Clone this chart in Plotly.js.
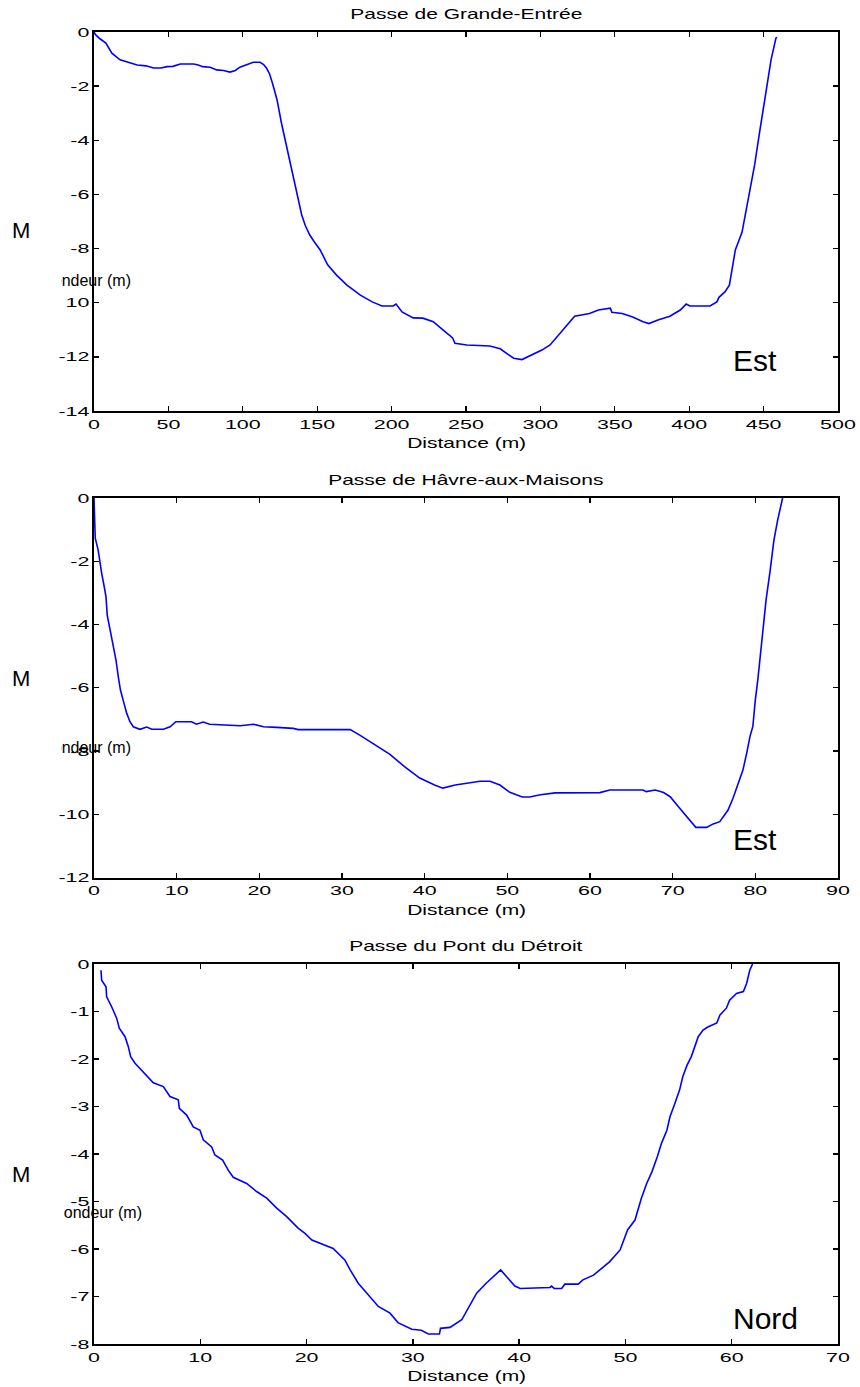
<!DOCTYPE html>
<html>
<head>
<meta charset="utf-8">
<script src="https://cdn.plot.ly/plotly-3.0.1.min.js"></script>
<style>
  html, body { margin: 0; padding: 0; background: #ffffff; }
  #chart { width: 860px; height: 1387px; }
</style>
</head>
<body>
<div id="chart"></div>
<script>
// ---------- Data ----------
var titles = ['Passe de Grande-Entrée', 'Passe de Hâvre-aux-Maisons', 'Passe du Pont du Détroit'];
var directions = ['Est', 'Est', 'Nord'];
var xLabel = 'Distance (m)';
var yLabel = 'Profondeur (m)';
var yUnit = 'M';

// Passe de Grande-Entrée
var dist1 = [0, 1, 4, 8, 12, 17.5, 23, 29, 35, 40, 45, 49, 53, 58, 63, 67, 70, 73, 78, 82.5, 87, 91.4, 95, 98, 103, 107, 111.6, 114, 116, 118, 120, 123, 126, 129.5, 133, 137, 139.6, 142, 145, 148, 152, 157, 163, 170, 179, 187, 193.5, 201, 203, 207, 214.5, 221, 228, 234.5, 241, 242.6, 250.5, 266, 273, 278, 282, 287.6, 295, 301, 306.5, 315, 323, 333, 339, 347, 348, 355, 362, 369, 373, 379, 387, 394, 398, 400.5, 414, 418.6, 420, 424, 427, 429, 431, 435.5, 439.5, 444, 447.6, 451.6, 455, 458.3, 459];
var depth1 = [0, -0.1, -0.25, -0.41, -0.78, -1.03, -1.12, -1.22, -1.25, -1.33, -1.33, -1.28, -1.27, -1.18, -1.18, -1.18, -1.22, -1.28, -1.3, -1.4, -1.42, -1.48, -1.42, -1.3, -1.2, -1.12, -1.12, -1.2, -1.34, -1.55, -1.9, -2.5, -3.37, -4.24, -5.2, -6.2, -6.76, -7.15, -7.5, -7.75, -8.05, -8.6, -8.98, -9.35, -9.72, -9.97, -10.12, -10.12, -10.05, -10.34, -10.56, -10.57, -10.7, -11.0, -11.3, -11.5, -11.56, -11.6, -11.7, -11.9, -12.05, -12.1, -11.9, -11.75, -11.56, -11.0, -10.5, -10.4, -10.27, -10.2, -10.35, -10.4, -10.53, -10.7, -10.77, -10.64, -10.5, -10.27, -10.05, -10.12, -10.12, -9.97, -9.8, -9.6, -9.35, -8.7, -8.05, -7.4, -6.2, -4.9, -3.6, -2.14, -1.03, -0.22, -0.2];

// Passe de Hâvre-aux-Maisons
var dist2 = [0, 0.15, 0.5, 0.73, 0.93, 1.2, 1.45, 1.6, 1.94, 2.3, 2.66, 2.94, 3.2, 3.63, 3.95, 4.35, 4.75, 5.56, 6.37, 7.0, 8.4, 9.2, 9.9, 11.8, 12.4, 13.2, 14.0, 16.45, 17.7, 19.3, 20.5, 22.1, 24.1, 24.7, 31, 32.2, 34, 35.8, 37.6, 39.4, 41.2, 42.2, 43.7, 45.5, 46.7, 47.9, 49.1, 50.3, 51.8, 52.7, 54, 55.8, 57.6, 59.4, 61.2, 62.4, 66.4, 66.8, 67.9, 68.9, 69.7, 70.7, 71.7, 72.8, 74.1, 74.9, 75.7, 76.7, 77.3, 77.9, 78.5, 78.95, 79.35, 79.7, 79.8, 80, 80.3, 80.8, 81.3, 81.8, 82.25, 82.7, 83.2, 83.3];
var depth2 = [0, -1.27, -1.64, -2.06, -2.38, -2.75, -3.12, -3.7, -4.17, -4.6, -5.12, -5.65, -6.07, -6.49, -6.8, -7.07, -7.23, -7.31, -7.24, -7.31, -7.31, -7.23, -7.07, -7.07, -7.15, -7.08, -7.15, -7.18, -7.2, -7.15, -7.23, -7.25, -7.28, -7.32, -7.32, -7.5, -7.8, -8.1, -8.5, -8.85, -9.07, -9.17, -9.07, -9.0, -8.95, -8.95, -9.07, -9.3, -9.45, -9.45, -9.38, -9.32, -9.32, -9.32, -9.31, -9.23, -9.23, -9.28, -9.23, -9.31, -9.44, -9.76, -10.07, -10.41, -10.41, -10.3, -10.23, -9.86, -9.49, -9.07, -8.6, -8.07, -7.54, -7.22, -6.91, -6.38, -5.75, -4.49, -3.22, -2.28, -1.33, -0.7, -0.06, 0];

// Passe du Pont du Détroit
var dist3 = [0.66, 0.72, 1.13, 1.19, 1.66, 2.13, 2.38, 2.92, 3.23, 3.45, 3.86, 4.33, 4.96, 5.58, 6.52, 7.15, 7.93, 8.03, 8.72, 9.34, 9.97, 10.28, 11.07, 11.38, 12.1, 12.63, 13.1, 14.36, 15.3, 16.25, 17.19, 18.13, 19.2, 19.85, 20.5, 21.26, 22.5, 23.6, 24.1, 24.86, 25.65, 26.75, 27.85, 28.6, 29.9, 30.8, 31.45, 32.5, 32.6, 33.5, 34.6, 35.2, 36.0, 36.9, 37.56, 38.26, 38.97, 39.6, 40.1, 42.9, 43.05, 43.3, 44.0, 44.3, 45.56, 46.0, 47.0, 47.6, 48.5, 49.5, 50.2, 50.9, 51.5, 52.0, 52.5, 53.0, 53.4, 53.9, 54.2, 54.66, 55.1, 55.4, 55.8, 56.2, 56.5, 56.85, 57.3, 57.8, 58.6, 58.9, 59.5, 59.8, 60.45, 61.1, 61.4, 61.7, 61.96];
var depth3 = [-0.13, -0.34, -0.48, -0.69, -0.9, -1.14, -1.35, -1.53, -1.74, -1.95, -2.09, -2.2, -2.34, -2.5, -2.58, -2.79, -2.86, -3.04, -3.18, -3.43, -3.5, -3.7, -3.85, -4.02, -4.13, -4.34, -4.49, -4.62, -4.79, -4.93, -5.14, -5.32, -5.56, -5.67, -5.81, -5.88, -5.99, -6.23, -6.44, -6.72, -6.93, -7.21, -7.35, -7.55, -7.69, -7.71, -7.79, -7.79, -7.67, -7.65, -7.49, -7.24, -6.93, -6.72, -6.58, -6.44, -6.62, -6.78, -6.83, -6.81, -6.78, -6.83, -6.83, -6.74, -6.74, -6.65, -6.55, -6.44, -6.27, -6.02, -5.6, -5.39, -4.93, -4.62, -4.37, -4.06, -3.77, -3.5, -3.21, -2.93, -2.65, -2.37, -2.13, -1.95, -1.74, -1.53, -1.39, -1.32, -1.24, -1.07, -0.93, -0.76, -0.62, -0.58, -0.41, -0.13, 0];

// Tick values and labels
var xTicks1 = [0, 50, 100, 150, 200, 250, 300, 350, 400, 450, 500];
var xTickText1 = ['0', '50', '100', '150', '200', '250', '300', '350', '400', '450', '500'];
var yTicks1 = [0, -2, -4, -6, -8, -10, -12, -14];
var yTickText1 = ['0', '-2', '-4', '-6', '-8', '10', '-12', '-14'];
var xTicks2 = [0, 10, 20, 30, 40, 50, 60, 70, 80, 90];
var xTickText2 = ['0', '10', '20', '30', '40', '50', '60', '70', '80', '90'];
var yTicks2 = [0, -2, -4, -6, -8, -10, -12];
var yTickText2 = ['0', '-2', '-4', '-6', '-8', '-10', '-12'];
var xTicks3 = [0, 10, 20, 30, 40, 50, 60, 70];
var xTickText3 = ['0', '10', '20', '30', '40', '50', '60', '70'];
var yTicks3 = [0, -1, -2, -3, -4, -5, -6, -7, -8];
var yTickText3 = ['0', '-1', '-2', '-3', '-4', '-5', '-6', '-7', '-8'];

// ---------- Layout helpers ----------
var W = 860, H = 1387;
function px(x) { return x / W; }
function py(y) { return 1 - y / H; }
var FONT = 'Liberation Sans, Arial, Helvetica, sans-serif';

var xDom = [px(94), px(838)];
var yDoms = [[py(411), py(32)], [py(877.7), py(498)], [py(1344), py(964)]];

function xAxis(range, tv, tt, anchor) {
  return {
    domain: xDom, range: range, anchor: anchor,
    tickmode: 'array', tickvals: tv, ticktext: tt,
    ticks: 'inside', ticklen: 5, tickwidth: 1.3, tickcolor: '#000',
    showline: true, linecolor: '#000', linewidth: 2, mirror: 'ticks',
    showgrid: false, zeroline: false, fixedrange: true,
    tickfont: { family: FONT, size: 13, color: '#000' }
  };
}
function yAxis(range, tv, tt, dom, anchor) {
  return {
    domain: dom, range: range, anchor: anchor,
    tickmode: 'array', tickvals: tv, ticktext: tt,
    ticks: 'inside', ticklen: 5, tickwidth: 1.3, tickcolor: '#000',
    showline: true, linecolor: '#000', linewidth: 2, mirror: 'ticks',
    showgrid: false, zeroline: false, fixedrange: true,
    tickfont: { family: FONT, size: 13, color: '#000' }
  };
}

var lineStyle = { color: '#0000ff', width: 1.6 };
var traces = [
  { x: dist1, y: depth1, xaxis: 'x', yaxis: 'y', mode: 'lines', line: lineStyle, name: titles[0] },
  { x: dist2, y: depth2, xaxis: 'x2', yaxis: 'y2', mode: 'lines', line: lineStyle, name: titles[1] },
  { x: dist3, y: depth3, xaxis: 'x3', yaxis: 'y3', mode: 'lines', line: lineStyle, name: titles[2] }
];

var plotTop = [32, 498, 964];
var plotBottom = [411, 877.7, 1344];
var mY = [230, 678, 1174];
var profY = [280, 747, 1212];
var profRight = [132, 132, 143];
var profWidth = [70, 70, 78];
var dirY = [361, 839.5, 1318];

var annotations = [];
var stretchIdx = [];
for (var i = 0; i < 3; i++) {
  stretchIdx.push(annotations.length);
  annotations.push({ text: titles[i], xref: 'paper', yref: 'paper', x: px(466), y: py(plotTop[i] - 18),
    xanchor: 'center', yanchor: 'middle', showarrow: false, font: { family: FONT, size: 14, color: '#000' } });
  stretchIdx.push(annotations.length);
  annotations.push({ text: xLabel, xref: 'paper', yref: 'paper', x: px(466), y: py(plotBottom[i] + 32),
    xanchor: 'center', yanchor: 'middle', showarrow: false, font: { family: FONT, size: 14, color: '#000' } });
  annotations.push({ text: yUnit, xref: 'paper', yref: 'paper', x: px(21), y: py(mY[i]),
    xanchor: 'center', yanchor: 'middle', showarrow: false, font: { family: FONT, size: 22, color: '#000' } });
  annotations.push({ text: yLabel, xref: 'paper', yref: 'paper', x: px(profRight[i]), y: py(profY[i]),
    xanchor: 'right', yanchor: 'middle', showarrow: false, width: profWidth[i], align: 'right', borderpad: 0,
    font: { family: FONT, size: 16, color: '#000' } });
  annotations.push({ text: directions[i], xref: 'paper', yref: 'paper', x: px(731), y: py(dirY[i]),
    xanchor: 'left', yanchor: 'middle', showarrow: false, font: { family: FONT, size: 30, color: '#000' } });
}

var layout = {
  width: W, height: H,
  margin: { l: 0, r: 0, t: 0, b: 0, pad: 0 },
  paper_bgcolor: '#ffffff', plot_bgcolor: '#ffffff',
  showlegend: false,
  font: { family: FONT, color: '#000' },
  xaxis: xAxis([0, 500], xTicks1, xTickText1, 'y'),
  yaxis: yAxis([-14, 0], yTicks1, yTickText1, yDoms[0], 'x'),
  xaxis2: xAxis([0, 90], xTicks2, xTickText2, 'y2'),
  yaxis2: yAxis([-12, 0], yTicks2, yTickText2, yDoms[1], 'x2'),
  xaxis3: xAxis([0, 70], xTicks3, xTickText3, 'y3'),
  yaxis3: yAxis([-8, 0], yTicks3, yTickText3, yDoms[2], 'x3'),
  annotations: annotations
};

function stretch(nodes, sx, anchor) {
  nodes.forEach(function (t) {
    var bb = t.getBBox();
    var ax = anchor === 'end' ? bb.x + bb.width : (bb.x + bb.width / 2);
    var tr = t.getAttribute('transform') || '';
    t.setAttribute('transform', tr + ' translate(' + ax + ',0) scale(' + sx + ',1) translate(' + (-ax) + ',0)');
  });
}

Plotly.newPlot('chart', traces, layout, { staticPlot: true, displayModeBar: false }).then(function (gd) {
  var q = function (s) { return Array.prototype.slice.call(gd.querySelectorAll(s)); };
  stretch(q('g.xtick text, g.x2tick text, g.x3tick text'), 1.65, 'middle');
  stretch(q('g.ytick text, g.y2tick text, g.y3tick text'), 1.65, 'end');
  var ann = [];
  stretchIdx.forEach(function (k) {
    ann = ann.concat(q('g.annotation[data-index="' + k + '"] text'));
  });
  stretch(ann, 1.5, 'middle');
});
</script>
</body>
</html>
